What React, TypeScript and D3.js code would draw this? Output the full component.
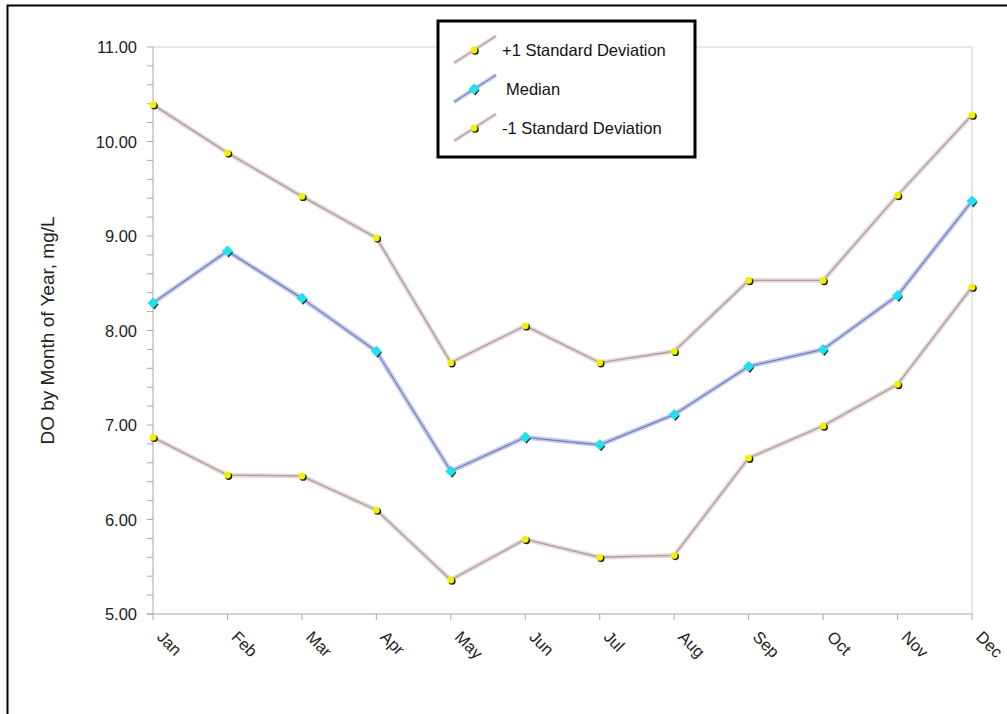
import React from "react";
import * as d3 from "d3";

const months = ["Jan", "Feb", "Mar", "Apr", "May", "Jun", "Jul", "Aug", "Sep", "Oct", "Nov", "Dec"];
const plusSD = [10.39, 9.88, 9.42, 8.98, 7.66, 8.05, 7.66, 7.78, 8.53, 8.53, 9.43, 10.28];
const median = [8.29, 8.84, 8.34, 7.78, 6.51, 6.87, 6.79, 7.11, 7.62, 7.80, 8.37, 9.37];
const minusSD = [6.87, 6.47, 6.46, 6.10, 5.36, 5.79, 5.60, 5.62, 6.65, 6.99, 7.43, 8.46];
const yTicks = [5, 6, 7, 8, 9, 10, 11];
const legendLabels = ["+1 Standard Deviation", "Median", "-1 Standard Deviation"];

const W = 1007;
const H = 714;
const left = 153;
const right = 972;
const top = 47;
const bottom = 614;

export default function App() {
  const x = d3.scalePoint<string>().domain(months).range([left, right]);
  const y = d3.scaleLinear().domain([5, 11]).range([bottom, top]);
  const minor = d3.range(5, 11.0001, 0.2);
  const line = d3
    .line<number>()
    .x((_, i) => x(months[i]) as number)
    .y((d) => y(d));

  const font = "'Liberation Sans', Arial, sans-serif";

  const sdLine = (data: number[], key: string) => (
    <g key={key}>
      <path d={line(data) || ""} fill="none" stroke="#e8dad8" strokeWidth={4.8} strokeLinejoin="round" />
      <path d={line(data) || ""} fill="none" stroke="#aaa0a0" strokeWidth={1.4} strokeLinejoin="round" />
    </g>
  );
  const sdDots = (data: number[], key: string) => (
    <g key={key}>
      {data.map((d, i) => (
        <g key={i}>
          <circle cx={(x(months[i]) as number) + 1.2} cy={y(d) + 1.2} r={3.6} fill="#222" />
          <circle cx={x(months[i]) as number} cy={y(d)} r={3.4} fill="#f2f200" />
        </g>
      ))}
    </g>
  );
  const diamond = (cx: number, cy: number, k: any) => (
    <g key={k}>
      <path d={`M${cx + 1.3},${cy - 4.2}L${cx + 5.5},${cy + 1.3}L${cx + 1.3},${cy + 6.5}L${cx - 2.9},${cy + 1.3}Z`} fill="#222" />
      <path d={`M${cx},${cy - 5.5}L${cx + 5.5},${cy}L${cx},${cy + 5.5}L${cx - 5.5},${cy}Z`} fill="#22e0ee" />
    </g>
  );

  const legendIcon = (cx: number, cy: number, kind: "sd" | "med", k: number) => {
    const x1 = cx - 20, y1 = cy + 13, x2 = cx + 22, y2 = cy - 14;
    return (
      <g key={k}>
        <line x1={x1} y1={y1} x2={x2} y2={y2} stroke={kind === "sd" ? "#e8dad8" : "#c4cbea"} strokeWidth={4} />
        <line x1={x1} y1={y1} x2={x2} y2={y2} stroke={kind === "sd" ? "#aaa0a0" : "#7a86c0"} strokeWidth={1.2} />
        {kind === "sd" ? (
          <g>
            <circle cx={cx + 1.2} cy={cy + 1.2} r={3.6} fill="#222" />
            <circle cx={cx} cy={cy} r={3.4} fill="#f2f200" />
          </g>
        ) : (
          diamond(cx, cy, "d")
        )}
      </g>
    );
  };

  return (
    <svg width={W} height={H} style={{ position: "absolute", left: 0, top: 0 }} fontFamily={font}>
      <rect x={0} y={0} width={W} height={H} fill="#fff" />
      <rect x={7.5} y={5.5} width={1020} height={730} fill="none" stroke="#000" strokeWidth={2} />

      {/* plot border */}
      <line x1={left} y1={top} x2={right} y2={top} stroke="#d0d0d0" strokeWidth={1} />
      <line x1={right} y1={top} x2={right} y2={bottom} stroke="#d0d0d0" strokeWidth={1} />

      {/* y axis */}
      <line x1={left} y1={top} x2={left} y2={bottom} stroke="#a8a8a8" strokeWidth={1} />
      {minor.map((v, i) => (
        <line key={i} x1={left - 6} x2={left} y1={y(v)} y2={y(v)} stroke="#a8a8a8" strokeWidth={1} />
      ))}
      {yTicks.map((v) => (
        <text key={v} x={137} y={y(v) + 6} textAnchor="end" fontSize={16.5} fill="#222">
          {v.toFixed(2)}
        </text>
      ))}
      <text
        transform={`translate(54,${(top + bottom) / 2}) rotate(-90)`}
        textAnchor="middle"
        fontSize={19}
        fill="#222"
      >
        DO by Month of Year, mg/L
      </text>

      {/* x axis */}
      <line x1={left - 6} x2={right} y1={bottom} y2={bottom} stroke="#a8a8a8" strokeWidth={1} />
      {months.map((m) => (
        <g key={m}>
          <line x1={x(m) as number} x2={x(m) as number} y1={bottom} y2={bottom + 6} stroke="#a8a8a8" strokeWidth={1} />
          <text
            transform={`translate(${(x(m) as number) + 3},${bottom + 24}) rotate(45)`}
            textAnchor="start"
            fontSize={16.5}
            fill="#222"
          >
            {m}
          </text>
        </g>
      ))}

      {/* series */}
      {sdLine(plusSD, "p")}
      {sdLine(minusSD, "m")}
      <path d={line(median) || ""} fill="none" stroke="#c4cbea" strokeWidth={4.8} strokeLinejoin="round" />
      <path d={line(median) || ""} fill="none" stroke="#6e7cbc" strokeWidth={1.2} strokeLinejoin="round" />
      {sdDots(plusSD, "pd")}
      {sdDots(minusSD, "md")}
      {median.map((d, i) => diamond(x(months[i]) as number, y(d), i))}

      {/* legend */}
      <rect x={438} y={21} width={257} height={136} fill="#fff" stroke="#000" strokeWidth={3} />
      {legendLabels.map((l, i) => (
        <g key={l}>
          {legendIcon(474, 50 + i * 39, i === 1 ? "med" : "sd", i)}
          <text x={i === 1 ? 506 : 502} y={56 + i * 39} fontSize={16.5} fill="#111">
            {l}
          </text>
        </g>
      ))}
    </svg>
  );
}
